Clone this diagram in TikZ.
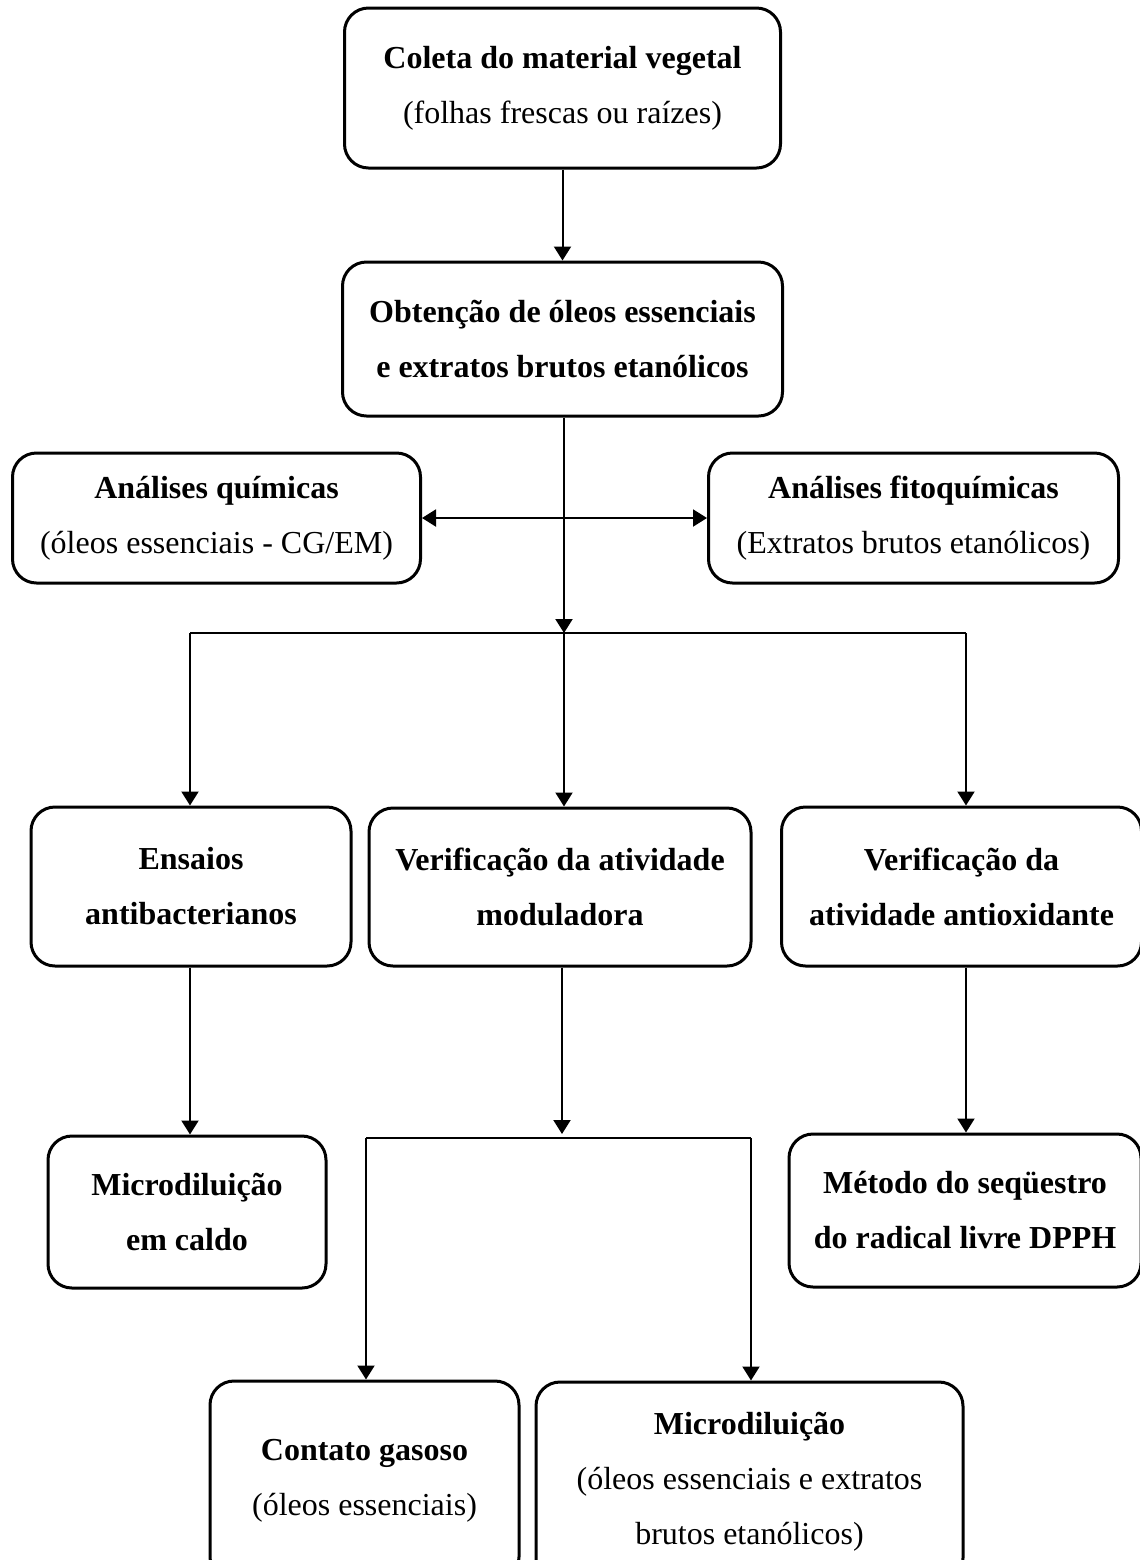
\documentclass[tikz,border=0pt]{standalone}
\usepackage{fontspec}
\setmainfont{Liberation Serif}
\usetikzlibrary{arrows.meta}
\tikzset{
  box/.style={draw,line width=1.5pt,rounded corners=12pt,align=center,inner sep=0pt,
    font=\fontsize{16pt}{27.5pt}\selectfont},
  bbox/.style={box,font=\fontsize{16pt}{27.5pt}\selectfont\bfseries},
  ln/.style={line width=1pt},
  ar/.style={ln,-{Triangle[length=7pt,width=8.5pt]}},
  dar/.style={ln,{Triangle[length=7pt,width=8.5pt]}-{Triangle[length=7pt,width=8.5pt]}},
}
\begin{document}
\begin{tikzpicture}[x=0.5pt,y=-0.5pt]
\useasboundingbox (0,0) rectangle (1140,1560);
% top column
\node[box,minimum width=218pt,minimum height=80pt] (coleta) at (562.5,88)
  {\textbf{Coleta do material vegetal}\\(folhas frescas ou raízes)};
\node[bbox,minimum width=220pt,minimum height=77pt] (obt) at (562.5,339)
  {Obtenção de óleos essenciais\\e extratos brutos etanólicos};
\node[box,minimum width=204pt,minimum height=65pt] (quim) at (216.5,518)
  {\textbf{Análises químicas}\\(óleos essenciais - CG/EM)};
\node[box,minimum width=205pt,minimum height=65pt] (fito) at (913.5,518)
  {\textbf{Análises fitoquímicas}\\(Extratos brutos etanólicos)};
% second row
\node[bbox,minimum width=160pt,minimum height=79.5pt] (ensaios) at (191,886.5)
  {Ensaios\\antibacterianos};
\node[bbox,minimum width=191pt,minimum height=79pt] (modul) at (560,887)
  {Verificação da atividade\\moduladora};
\node[bbox,minimum width=180pt,minimum height=79.5pt] (antiox) at (961.5,886.5)
  {Verificação da\\atividade antioxidante};
% third row
\node[bbox,minimum width=139pt,minimum height=76pt] (caldo) at (187,1212)
  {Microdiluição\\em caldo};
\node[bbox,minimum width=176pt,minimum height=76.5pt] (dpph) at (965,1210.5)
  {Método do seqüestro\\do radical livre DPPH};
% bottom row
\node[box,minimum width=154.5pt,minimum height=100pt] (gas) at (364.5,1481)
  {\textbf{Contato gasoso}\\(óleos essenciais)};
\node[box,minimum width=213.5pt,minimum height=100pt] (micro) at (749.5,1482)
  {\textbf{Microdiluição}\\(óleos essenciais e extratos\\brutos etanólicos)};
% junctions
\coordinate (j1) at (564,633);
\coordinate (jl) at (190,633);
\coordinate (jr) at (966,633);
\coordinate (j2) at (562,1138);
\coordinate (jl2) at (366,1138);
\coordinate (jr2) at (751,1138);
% connectors
\draw[ar] (coleta) -- (obt);
\draw[ar] (obt.south -| j1) -- (j1);
\draw[dar] (quim) -- (fito);
\draw[ln] (jl) -- (jr);
\draw[ar] (jl) -- (jl |- ensaios.north);
\draw[ar] (j1) -- (j1 |- modul.north);
\draw[ar] (jr) -- (jr |- antiox.north);
\draw[ar] (ensaios.south -| jl) -- (jl |- caldo.north);
\draw[ar] (antiox.south -| jr) -- (jr |- dpph.north);
\draw[ar] (modul.south -| j2) -- ([yshift=2pt]j2);
\draw[ln] (jl2) -- (jr2);
\draw[ar] (jl2) -- (jl2 |- gas.north);
\draw[ar] (jr2) -- (jr2 |- micro.north);
\end{tikzpicture}
\end{document}
